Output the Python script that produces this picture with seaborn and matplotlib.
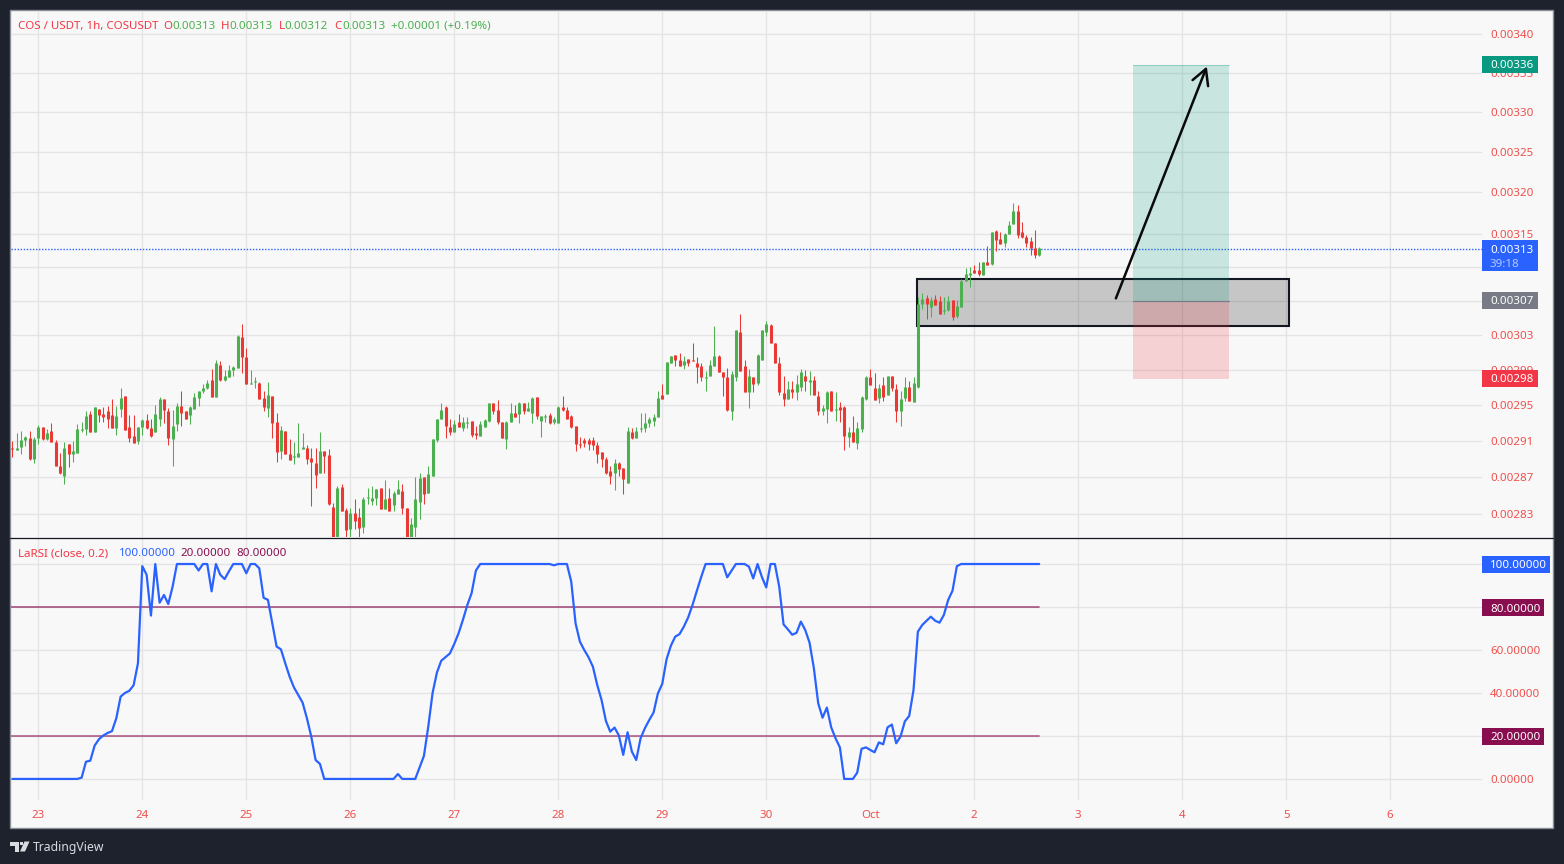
#%%
# COS / USDT 1h candles with LaRSI pane
import seaborn as sns
import matplotlib.pyplot as plt
from matplotlib.patches import Rectangle, Polygon
import numpy as np

# candle values, in units of 0.00001
body_top = [
    290.2,290.2,291.1,291.4,291.3,291.2,292.5,292.6,291.9,292.1,
    290.9,288.2,290.2,290.7,289.9,292.3,292.3,293.8,294.0,294.8,
    294.6,294.0,294.3,293.9,293.8,295.8,296.0,292.6,291.5,292.5,
    293.3,293.3,292.4,294.0,295.7,295.7,294.4,292.7,294.9,294.9,
    294.3,294.8,295.9,296.6,296.9,297.5,297.9,299.8,299.6,298.3,
    299.0,299.3,302.9,302.8,300.5,297.5,297.7,297.5,295.8,296.2,
    296.0,293.1,292.2,292.1,289.5,289.3,289.7,290.3,290.2,289.1,
    288.6,289.9,289.9,289.4,283.7,285.8,285.9,283.4,283.1,283.1,
    282.6,284.6,284.8,284.7,285.7,285.8,284.6,284.7,285.3,285.7,
    285.5,283.6,281.9,284.6,286.9,287.0,287.3,291.2,293.4,294.5,
    294.8,292.6,292.9,293.1,293.1,293.1,293.2,291.9,292.9,293.3,
    295.2,295.2,294.5,293.1,293.1,294.1,294.1,295.3,295.2,294.7,
    295.8,295.9,293.8,293.8,293.9,293.4,294.8,294.8,294.5,293.8,
    292.7,290.7,291.1,291.1,291.1,290.6,289.8,289.0,287.7,288.5,
    288.6,288.0,292.1,292.0,292.1,292.4,293.0,293.4,293.7,295.8,
    296.2,299.9,300.6,300.7,300.2,300.0,300.3,300.1,299.8,299.4,
    298.2,299.6,300.6,300.6,298.8,298.2,298.5,303.6,303.4,299.5,
    298.3,298.2,300.7,303.6,304.3,304.2,302.1,299.8,296.4,296.8,
    296.8,297.4,298.8,298.3,297.9,297.9,296.0,294.7,296.5,296.6,
    294.6,294.8,294.8,292.0,292.0,292.4,295.9,298.2,298.2,296.9,
    297.0,297.3,298.3,298.3,296.8,295.7,297.1,297.1,297.5,306.7,
    307.2,307.3,307.1,307.2,307.0,305.9,307.0,307.1,306.4,309.4,
    310.2,310.3,310.7,310.7,311.6,311.6,315.2,315.3,314.3,315.0,
    316.1,317.8,317.8,315.2,314.6,314.1,313.3,313.3,
]
body_bottom = [
    290.1,290.0,290.3,291.1,289.0,289.0,291.3,291.2,291.2,290.9,
    288.2,287.4,287.1,289.5,289.5,289.7,292.2,292.3,292.0,292.0,
    293.9,293.7,293.4,292.4,292.4,294.6,292.2,291.3,290.8,291.0,
    292.5,292.4,291.5,292.0,293.5,294.5,291.3,291.2,292.9,294.1,
    293.4,293.9,294.6,295.8,296.6,296.9,295.9,295.9,297.9,297.9,
    298.2,299.0,299.2,300.5,297.4,297.4,297.6,295.7,294.8,294.7,
    293.0,289.8,289.9,289.5,288.9,289.2,289.2,290.1,289.0,288.7,
    287.2,287.5,289.3,284.1,280.0,280.0,283.3,281.2,281.4,282.2,
    281.5,281.6,284.7,284.4,284.7,283.5,283.5,283.3,283.9,285.2,
    283.6,279.7,279.7,281.6,284.3,285.2,285.3,287.1,291.1,293.5,
    292.7,292.0,292.0,292.6,292.4,293.0,291.7,291.7,291.5,292.6,
    293.2,294.3,293.1,291.3,291.2,293.1,293.7,294.0,294.3,294.4,
    294.1,293.8,293.2,293.7,293.0,293.1,293.0,294.5,293.5,292.5,
    290.7,290.6,290.8,290.7,290.6,289.5,289.0,287.5,287.1,287.4,
    287.9,286.8,286.4,291.3,291.3,292.3,292.4,293.0,293.2,293.7,
    295.7,296.3,299.8,300.2,299.5,299.6,299.8,300.0,299.3,298.2,
    298.1,298.3,299.5,298.8,298.2,294.5,294.4,298.2,298.9,296.5,
    296.5,297.4,297.5,300.2,303.4,302.1,299.8,296.5,295.7,295.7,
    296.5,296.5,297.1,297.7,297.6,296.2,294.4,294.4,294.6,294.4,
    294.5,294.5,291.6,291.4,290.9,290.8,292.3,295.7,297.3,295.6,
    295.8,295.9,296.2,297.0,294.4,294.3,295.8,295.5,295.4,297.1,
    306.6,306.6,306.3,306.5,305.5,305.8,305.9,305.1,305.2,306.3,
    309.3,310.1,310.3,310.2,310.1,311.3,311.4,314.2,313.7,313.9,
    315.0,316.2,314.8,314.6,313.9,313.3,312.5,312.5,
]
wick_high = [
    291.0,291.9,292.1,291.5,292.1,291.4,292.8,292.6,292.3,293.0,
    291.1,289.7,290.9,290.7,291.0,292.9,293.1,294.3,294.4,294.8,
    294.6,294.8,294.9,295.7,294.9,296.9,296.0,293.9,293.9,292.5,
    293.5,294.0,293.4,295.0,295.9,295.7,294.7,294.5,295.2,296.6,
    294.3,294.9,296.4,296.6,297.4,297.9,299.1,300.1,300.0,299.0,
    299.6,299.4,303.0,304.3,301.5,299.0,298.2,297.6,296.6,297.6,
    296.0,294.1,292.7,292.1,291.2,290.9,293.0,291.9,290.6,290.2,
    290.2,292.0,289.9,290.1,284.2,286.0,286.2,283.6,283.6,284.6,
    283.6,284.8,285.8,286.0,285.7,285.8,286.7,285.8,285.5,286.7,
    286.2,283.6,282.5,287.0,287.4,287.0,288.2,291.2,293.5,295.3,
    294.9,293.5,293.3,294.0,293.7,293.7,293.2,292.7,293.2,293.5,
    295.3,295.2,295.6,293.1,293.2,295.3,295.0,295.4,295.2,295.4,
    295.9,295.9,293.8,294.0,294.1,293.7,294.9,296.0,294.8,293.9,
    292.7,291.4,291.3,291.3,291.4,290.9,289.8,289.2,288.2,289.0,
    288.7,288.0,292.5,292.4,292.6,294.1,294.1,293.7,294.0,296.6,
    297.4,299.9,300.6,300.7,300.9,300.6,300.3,302.1,300.5,299.8,
    298.9,300.1,304.1,300.7,298.8,299.2,298.9,303.6,305.5,300.1,
    299.1,298.2,300.8,303.6,304.7,304.3,302.1,300.5,298.3,297.8,
    297.8,298.4,299.1,299.0,298.9,298.3,296.6,295.0,296.6,296.6,
    296.5,295.4,294.9,292.6,293.8,293.1,296.0,298.3,299.1,298.6,
    297.4,298.2,298.3,298.3,297.4,296.6,298.2,297.8,298.2,307.5,
    307.9,307.7,307.5,307.7,307.6,307.5,307.6,307.1,307.1,309.6,
    310.9,311.0,311.3,311.6,311.6,313.5,315.2,315.4,315.2,315.1,
    316.5,318.7,318.5,316.4,314.8,314.6,315.5,313.4,
]
wick_low = [
    289.2,290.0,289.5,290.4,288.9,288.6,290.7,291.1,291.1,290.9,
    288.2,287.3,286.2,288.1,288.7,289.7,292.0,291.7,292.0,292.0,
    293.1,293.1,292.4,292.4,291.7,293.7,292.2,290.9,290.8,290.7,
    291.7,292.3,291.4,292.0,292.7,293.0,290.6,288.2,292.1,292.7,
    293.4,292.9,294.6,294.9,296.4,296.8,295.9,295.9,297.7,297.7,
    298.2,298.3,299.2,298.6,297.4,297.4,297.0,295.7,294.3,293.7,
    291.3,288.7,289.0,289.5,288.9,288.4,289.2,290.1,288.4,283.8,
    285.8,287.5,287.4,284.0,280.0,280.0,283.3,280.0,280.0,281.4,
    280.0,280.9,284.1,283.9,283.9,283.5,283.5,283.3,283.3,285.2,
    283.0,279.7,279.7,280.0,282.4,284.1,285.3,287.1,290.9,293.5,
    291.3,291.7,292.0,292.6,292.1,292.4,291.4,291.2,291.5,292.5,
    293.1,294.0,292.9,291.3,290.1,293.1,293.7,293.0,294.0,294.4,
    293.0,293.5,291.4,293.1,292.9,292.9,293.0,294.4,293.5,292.4,
    289.9,290.2,290.3,290.0,290.0,288.6,288.1,287.3,286.2,285.6,
    287.1,285.2,286.4,291.2,291.3,292.0,292.0,292.6,292.7,293.7,
    295.7,296.3,299.8,299.4,299.5,299.1,299.5,300.0,297.5,297.8,
    296.6,298.3,299.5,298.8,296.0,294.3,293.3,297.7,298.9,296.5,
    294.7,296.5,297.3,300.2,302.9,302.1,299.8,296.2,294.9,295.7,
    295.8,295.6,296.6,296.6,296.2,296.2,293.9,293.9,293.0,294.4,
    293.2,293.1,290.0,290.3,290.9,290.1,292.0,295.6,297.3,295.6,
    295.2,295.5,296.2,296.6,293.1,292.7,295.5,295.5,295.4,297.0,
    306.0,304.9,305.1,306.5,305.5,305.5,305.8,304.8,305.0,306.3,
    309.3,308.6,310.3,310.0,310.1,311.3,311.3,312.9,313.7,313.4,
    315.0,316.2,314.5,314.5,313.4,312.5,312.1,312.3,
]
# g = closed up, d = closed down
direction = (
    "dgggdggdgd" "ddgdggggdg" "ddddggdddg" "gddggddggd" "dgggggdgdg"
    "gggddggddg" "ddgddgggdd" "dgdddgddgd" "dggggdgdgg" "ddgggdgggg"
    "ddgdggddgg" "gdddggdgdg" "gdggdggddd" "dddddddddg" "ddgdgggggg"
    "dggddgdddd" "gggdddggdd" "gdgggddddg" "dggdgddggd" "gddgdgggdd"
    "gdgddggdgg" "gdgddggdgg" "ggddgdgddg" "ggdddddg"
)
larsi = [
    0,0,0,0,0,0,0,0,0,0,
    0,0,0,0,0,0,0.6,8,8.5,15.5,
    18.5,20.2,21.4,22.2,28.2,38.3,40,41,43.6,53.8,
    99,95,76,100,82,85.6,81.4,89.5,100,100,
    100,100,100,97,100,100,87.3,100,95,93,
    96.6,100,100,100,95.7,100,100,98,84.3,83.3,
    72.4,61.6,60.3,53.8,47.6,42.6,39,35.5,28.2,19.7,
    8.8,7,0,0,0,0,0,0,0,0,
    0,0,0,0,0,0,0,0,0,2.3,
    0,0,0,0,5.4,10.7,24.3,40,49.5,55,
    56.7,58.4,62.8,67.8,74,80.8,86.4,97,100,100,
    100,100,100,100,100,100,100,100,100,100,
    100,100,100,100,100,99.4,100,100,100,91.8,
    72.4,63.9,60,56.6,52.2,43.7,36.7,27,22,23.9,
    20.2,11.2,21.7,12.7,8.8,18.9,23.6,27.4,30.9,39.8,
    44.2,55.7,62,66.2,67.4,70.9,75.2,81,87.6,94,
    100,100,100,100,100,93.8,96.9,100,100,100,
    98.8,93.3,100,94,89.1,100,100,89.5,71.9,69.6,
    67.1,68,73.2,69.3,63.4,51.5,35.2,28.5,33.2,24,
    18.9,14.7,0,0,0,2.9,14,14.7,13.5,12.4,
    17,16.1,24,25.3,16.6,19.7,26.8,29.3,41.4,68.5,
    71.6,73.6,75.5,73.6,72.7,76.3,83.3,87.6,99,100,
    100,100,100,100,100,100,100,100,100,100,
    100,100,100,100,100,100,100,100,
]
day_labels = ['23','24','25','26','27','28','29','30','Oct','2','3','4','5','6']
price_ticks = [340,335,330,325,320,315,311,307,303,299,295,291,287,283]
# these scale levels sit fully under a coloured tag, so they carry no label
price_hidden = [311,307]
rsi_ticks = [100,80,60,40,20,0]
rsi_hidden = [100,80,20]

# hour 0 is the start of the 23rd, the first candle is 6 hours before it
hours = np.arange(len(direction)) - 6
top = np.array(body_top) / 1e5
bottom = np.array(body_bottom) / 1e5
high = np.array(wick_high) / 1e5
low = np.array(wick_low) / 1e5
up = np.array([d == 'g' for d in direction])

GREEN = '#4caf50'
RED = '#e83935'
LABEL = '#ef4f4c'
BG = '#1e222d'
PANEL = '#f8f8f8'
GRID = '#e4e4e4'
BLUE = '#2962ff'
WINE = '#880e4f'
W, H = 1564, 864
FS = 8.3

sns.set_theme(style='whitegrid', rc={'axes.facecolor': 'none', 'grid.color': GRID, 'grid.linewidth': 1.0,
                                     'axes.edgecolor': 'none', 'xtick.bottom': False, 'ytick.right': False})
plt.rcParams['font.family'] = ['Noto Sans', 'DejaVu Sans']
plt.rcParams['font.size'] = FS


def fx(x):
    return x / W


def fy(y):
    return 1 - y / H


def px_box(x0, y0, x1, y1):
    return [fx(x0), fy(y1), (x1 - x0) / W, (y1 - y0) / H]


fig = plt.figure(figsize=(W / 100, H / 100), dpi=100, facecolor=BG)
fig.add_artist(Rectangle((fx(10), fy(828)), (1553 - 10) / W, (828 - 10) / H, transform=fig.transFigure,
                         facecolor=PANEL, edgecolor='#8a8e99', linewidth=1, zorder=-1))

ax = fig.add_axes(px_box(11, 11, 1482, 537))
ax2 = fig.add_axes(px_box(11, 538, 1482, 800))
x_lim = (-6.3, 333.2)
day_pos = [24 * i for i in range(len(day_labels))]

#--- price pane
ax.set_yscale('log')
ax.set_xlim(x_lim)
ax.set_ylim(0.002805, 0.00343)
candle_colors = [GREEN if u else RED for u in up]
ax.vlines(hours, low, high, colors=candle_colors, linewidth=0.75, zorder=4, snap=True)
ax.vlines(hours, bottom, top, colors=candle_colors, linewidth=2.2, zorder=4, capstyle='butt', snap=True)
ax.set_xticks(day_pos)
ax.set_xticklabels([])
ax.set_yticks([p / 1e5 for p in price_ticks])
ax.set_yticklabels(['' if p in price_hidden else f'{p / 1e5:.5f}' for p in price_ticks], color=LABEL)
ax.set_yticks([], minor=True)
ax.yaxis.tick_right()
ax.tick_params(axis='y', length=0, pad=5.8, labelsize=FS)
ax.tick_params(axis='x', length=0)
ax.grid(True, which='major')
ax.axhline(0.003132, color=BLUE, linewidth=1.0, linestyle=(0, (1, 1.2)), zorder=3)

# long position tool, zone box and arrow
ax.add_patch(Rectangle((252.6, 0.00307), 274.8 - 252.6, 0.00336 - 0.00307, facecolor='#089981', alpha=0.2,
                       linewidth=0, zorder=3))
ax.add_patch(Rectangle((252.6, 0.00298), 274.8 - 252.6, 0.00307 - 0.00298, facecolor='#f23645', alpha=0.2,
                       linewidth=0, zorder=3))
ax.plot([252.6, 274.8], [0.00336, 0.00336], color='#089981', alpha=0.3, linewidth=0.8, zorder=3)
ax.plot([252.6, 274.8], [0.00307, 0.00307], color='#787b86', linewidth=0.8, zorder=3)
ax.add_patch(Rectangle((202.8, 0.003041), 288.6 - 202.8, 0.003096 - 0.003041, facecolor=(0, 0, 0, 0.2),
                       edgecolor='#131722', linewidth=1.5, zorder=2))
ax.annotate('', xy=(269.7, 0.003358), xytext=(248.7, 0.003073),
            arrowprops=dict(arrowstyle='->,head_length=1.1,head_width=0.6', color='#0a0a0a', linewidth=1.8,
                            shrinkA=0, shrinkB=0, mutation_scale=10), zorder=5)

#--- LaRSI pane
ax2.set_xlim(x_lim)
ax2.set_ylim(-9.8, 112.1)
ax2.plot([hours[0] - 0.3, hours[-1]], [80, 80], color=WINE, alpha=0.7, linewidth=1.2, zorder=2)
ax2.plot([hours[0] - 0.3, hours[-1]], [20, 20], color=WINE, alpha=0.55, linewidth=1.4, zorder=2)
sns.lineplot(x=hours, y=larsi, ax=ax2, color=BLUE, linewidth=1.6, zorder=3, errorbar=None)
ax2.set_xticks(day_pos)
ax2.set_xticklabels(day_labels, color=LABEL)
ax2.set_yticks(rsi_ticks)
ax2.set_yticklabels(['' if v in rsi_hidden else f'{v:.5f}' for v in rsi_ticks], color=LABEL)
ax2.yaxis.tick_right()
ax2.tick_params(axis='y', length=0, pad=5.8, labelsize=FS)
ax2.tick_params(axis='x', length=0, pad=7, labelsize=FS)
ax2.set_xlabel('')
ax2.set_ylabel('')

# pane separator
fig.add_artist(plt.Line2D([fx(10), fx(1553)], [fy(537.5), fy(537.5)], transform=fig.transFigure,
                          color='#131722', linewidth=0.9, zorder=4))


def tag(y0, y1, x1, color, text, text_y=None):
    fig.add_artist(Rectangle((fx(1482), fy(y1)), (x1 - 1482) / W, (y1 - y0) / H, transform=fig.transFigure,
                             facecolor=color, linewidth=0, zorder=5))
    y_mid = (y0 + y1) / 2 if text_y is None else text_y
    fig.text(fx(1490), fy(y_mid), text, color='white', fontsize=FS, weight='bold', ha='left',
             va='center_baseline', zorder=6)


tag(56, 73, 1538, '#089981', '0.00336')
tag(240, 271, 1538, BLUE, '0.00313', text_y=249)
fig.text(fx(1490), fy(263), '39:18', color='#b6c9ff', fontsize=FS, ha='left', va='center_baseline', zorder=6)
tag(292, 309, 1538, '#787b86', '0.00307')
tag(370, 387, 1538, '#f23645', '0.00298')
tag(556, 573, 1550, BLUE, '100.00000')
tag(599, 616, 1544, WINE, '80.00000')
tag(728, 745, 1544, WINE, '20.00000')

# legends at the top left of each pane
legend_top = [(18, 'COS / USDT, 1h, COSUSDT', '#f23645'), (163.5, 'O', '#f23645'), (172, '0.00313', GREEN),
              (221, 'H', '#f23645'), (229, '0.00313', GREEN), (279, 'L', '#f23645'), (284, '0.00312', GREEN),
              (334, 'C', '#f23645'), (342, '0.00313', GREEN), (391, '+0.00001 (+0.19%)', GREEN)]
for x, s, c in legend_top:
    fig.text(fx(x), fy(25), s, color=c, fontsize=FS, ha='left', va='center_baseline', zorder=6)
legend_rsi = [(18, 'LaRSI (close, 0.2)', '#f23645'), (119, '100.00000', BLUE), (180, '20.00000', WINE),
              (236, '80.00000', WINE)]
for x, s, c in legend_rsi:
    fig.text(fx(x), fy(552.5), s, color=c, fontsize=FS, ha='left', va='center_baseline', zorder=6)

# TradingView mark
logo = '#d9dbe0'
fig.add_artist(Polygon([(fx(10), fy(841.5)), (fx(18.5), fy(841.5)), (fx(18.5), fy(851.5)), (fx(14.5), fy(851.5)),
                        (fx(14.5), fy(845.5)), (fx(10), fy(845.5))], transform=fig.transFigure, facecolor=logo,
                       linewidth=0, zorder=5))
fig.add_artist(Polygon([(fx(24.5), fy(841.5)), (fx(29.5), fy(841.5)), (fx(25), fy(851.5)), (fx(20), fy(851.5))],
                       transform=fig.transFigure, facecolor=logo, linewidth=0, zorder=5))
fig.add_artist(Polygon([(fx(19.5), fy(841.5)), (fx(23), fy(841.5)), (fx(23), fy(845)), (fx(19.5), fy(845))],
                       transform=fig.transFigure, facecolor=logo, linewidth=0, zorder=5))
fig.text(fx(33), fy(846.5), 'TradingView', color=logo, fontsize=8.8, ha='left', va='center_baseline', zorder=6)

fig.savefig('out.png', dpi=100, facecolor=BG)
